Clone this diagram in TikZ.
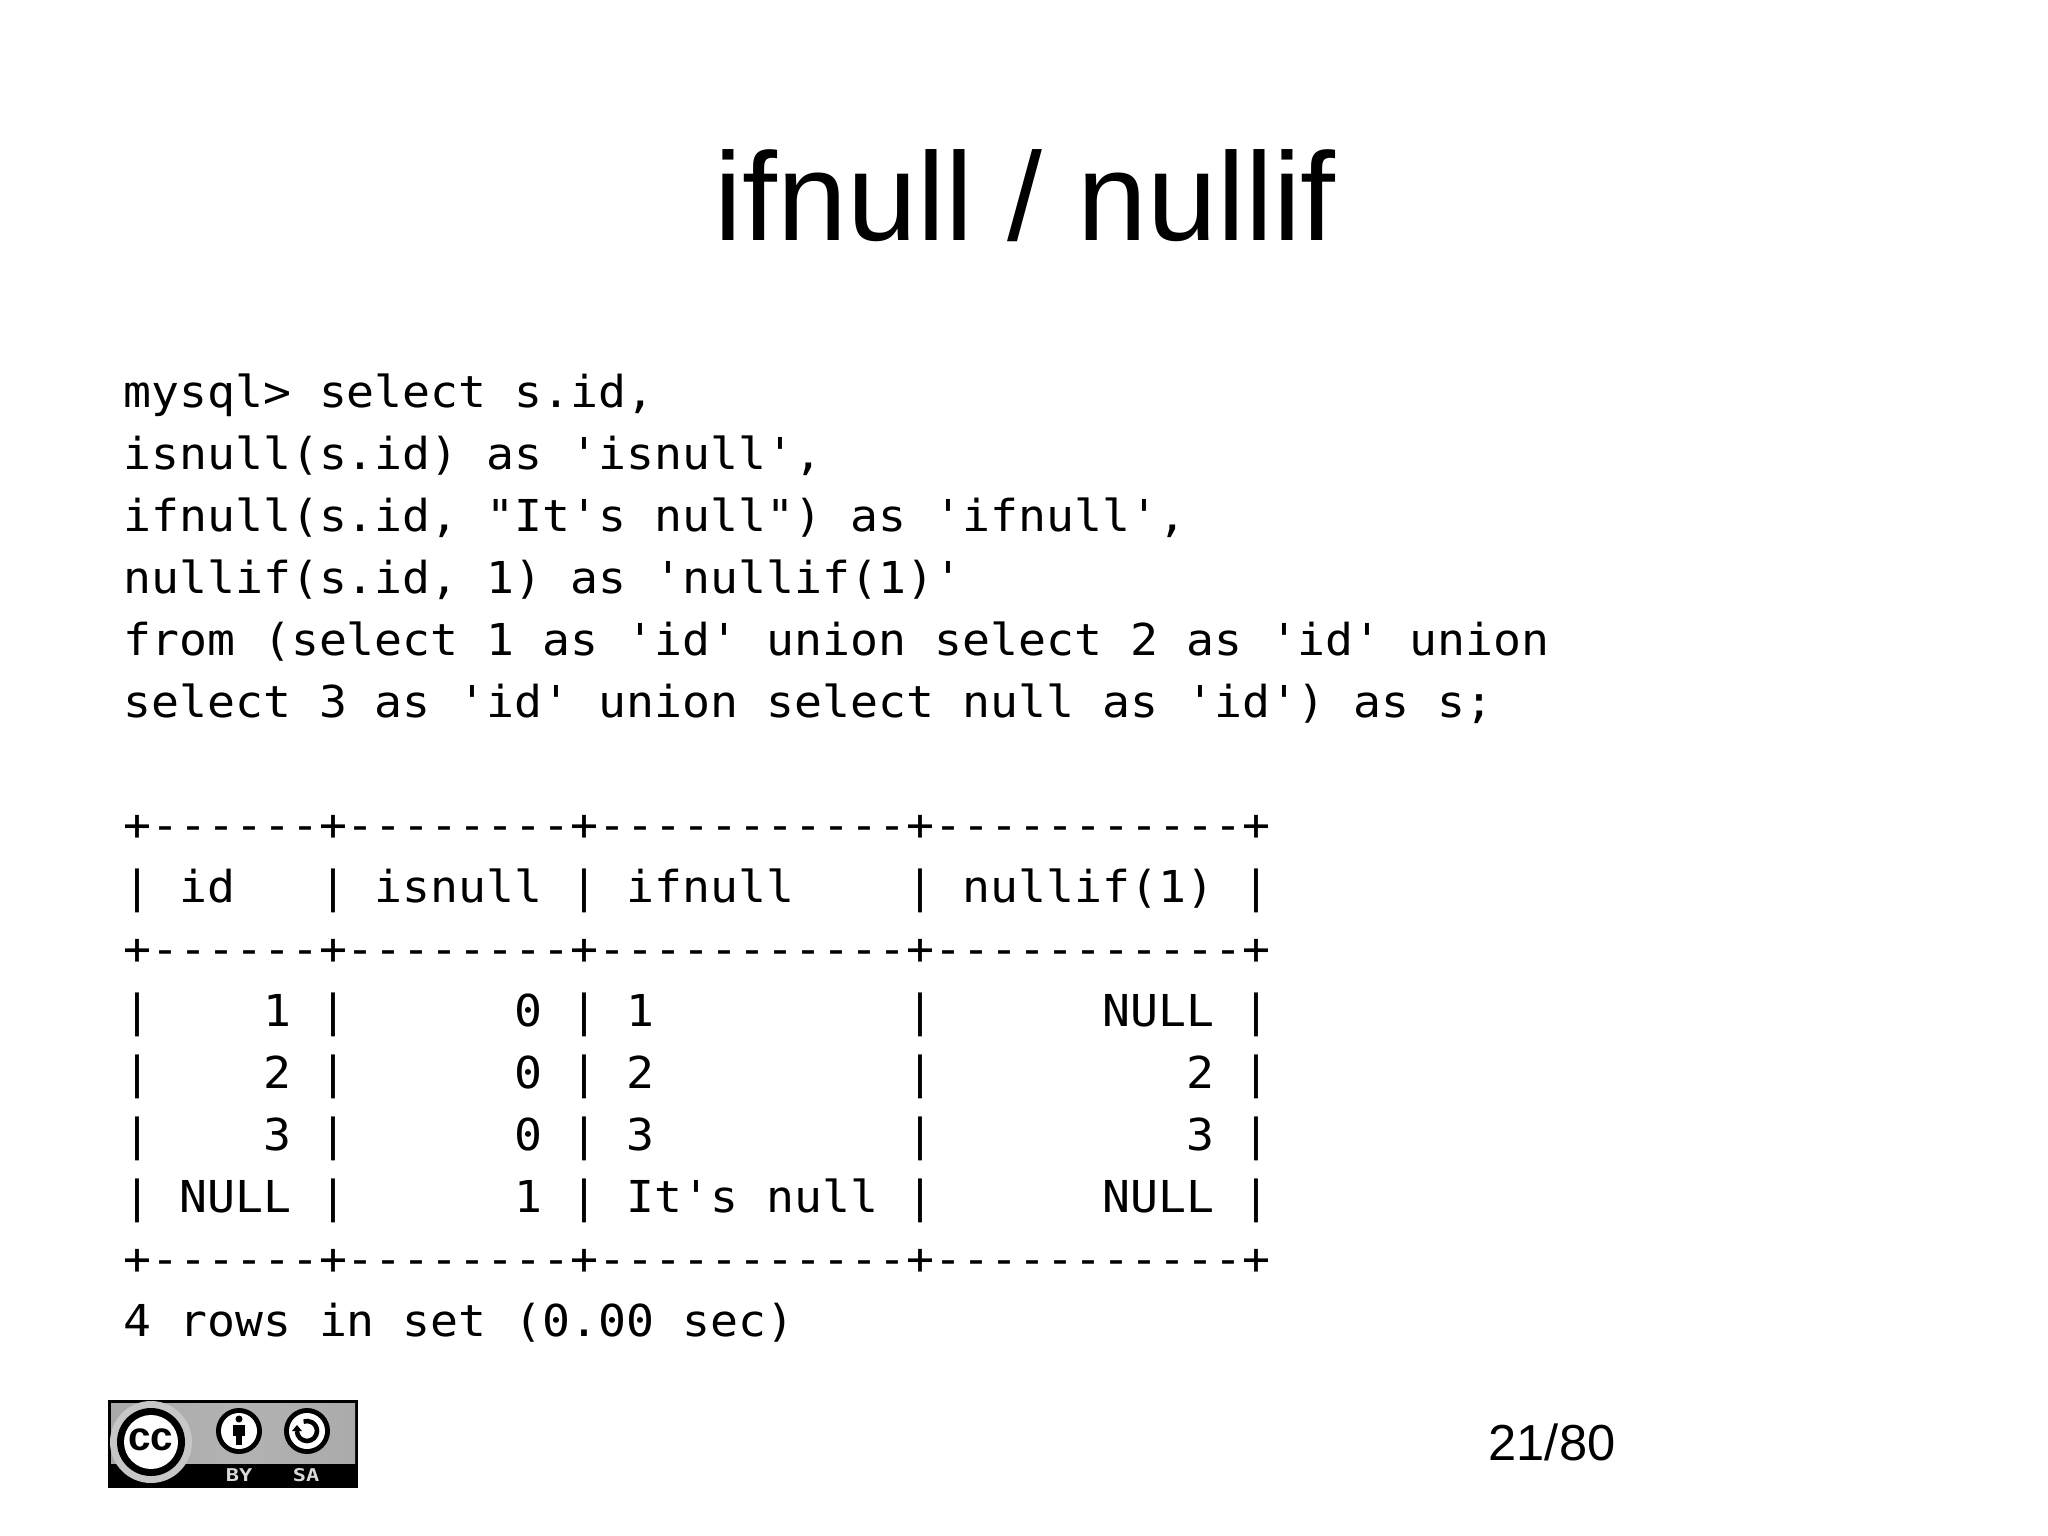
\documentclass[tikz,border=0pt]{standalone}
\usepackage{fontspec}
\setmainfont{Liberation Sans}
\newfontfamily\codefont[FakeStretch=1.057]{DejaVu Sans Mono}
\newfontfamily\badgefont{DejaVu Sans Mono}
\usetikzlibrary{math}

\tikzset{
  codeline/.style={anchor=base west,inner sep=0pt,font=\codefont\fontsize{12.5}{14}\selectfont},
  badgetext/.style={anchor=base,inner sep=0pt,text=white!85!black,xscale=1.25,font=\badgefont\bfseries\fontsize{5}{6}\selectfont}
}

\begin{document}
\begin{tikzpicture}[x=0.01cm,y=-0.01cm]
      \tikzmath{
        \xCode = 122.5;
        \yCode = 407.5;
        \dy = 61.9;
      }

      \useasboundingbox (0,0) rectangle (2048,1536);

      \node[anchor=base,inner sep=0pt,font=\fontsize{35.7}{40}\selectfont] (title) at (1025.5,240) {ifnull / nullif};

      % query
      \node[codeline] (q0) at (\xCode,\yCode+0*\dy) {mysql> select s.id,};
      \node[codeline] (q1) at (\xCode,\yCode+1*\dy) {isnull(s.id) as 'isnull',};
      \node[codeline] (q2) at (\xCode,\yCode+2*\dy) {ifnull(s.id, "It's null") as 'ifnull',};
      \node[codeline] (q3) at (\xCode,\yCode+3*\dy) {nullif(s.id, 1) as 'nullif(1)'};
      \node[codeline] (q4) at (\xCode,\yCode+4*\dy) {from (select 1 as 'id' union select 2 as 'id' union};
      \node[codeline] (q5) at (\xCode,\yCode+5*\dy) {select 3 as 'id' union select null as 'id') as s;};

      % result table
      \node[codeline] (r0) at (\xCode,\yCode+7*\dy) {+------+--------+-----------+-----------+};
      \node[codeline] (r1) at (\xCode,\yCode+8*\dy) {|~id~~~|~isnull~|~ifnull~~~~|~nullif(1)~|};
      \node[codeline] (r2) at (\xCode,\yCode+9*\dy) {+------+--------+-----------+-----------+};
      \node[codeline] (r3) at (\xCode,\yCode+10*\dy) {|~~~~1~|~~~~~~0~|~1~~~~~~~~~|~~~~~~NULL~|};
      \node[codeline] (r4) at (\xCode,\yCode+11*\dy) {|~~~~2~|~~~~~~0~|~2~~~~~~~~~|~~~~~~~~~2~|};
      \node[codeline] (r5) at (\xCode,\yCode+12*\dy) {|~~~~3~|~~~~~~0~|~3~~~~~~~~~|~~~~~~~~~3~|};
      \node[codeline] (r6) at (\xCode,\yCode+13*\dy) {|~NULL~|~~~~~~1~|~It's null~|~~~~~~NULL~|};
      \node[codeline] (r7) at (\xCode,\yCode+14*\dy) {+------+--------+-----------+-----------+};
      \node[codeline] (r8) at (\xCode,\yCode+15*\dy) {4 rows in set (0.00 sec)};

      \node[anchor=base,inner sep=0pt,font=\fontsize{14.4}{16}\selectfont] (page) at (1552,1460) {21/80};

      % licence badge
      \fill[black] (108,1400) rectangle (358,1488);
      \fill[left color=black!34,right color=black!33,middle color=black!30] (111,1403) rectangle (355,1463);
      \fill[black!22] (151,1442) circle [radius=41];
      \fill[black] (151,1442) circle [radius=34];
      \fill[white] (151,1442) circle [radius=27];
      \node[inner sep=0pt,font=\bfseries\fontsize{11.5}{12}\selectfont] (cc) at (151,1440) {cc};

      \fill[black] (239,1431) circle [radius=23];
      \fill[white] (239,1431) circle [radius=18];
      \fill[black] (239,1419) circle [radius=3.5];
      \fill[black] (233,1425) rectangle (245,1436);
      \fill[black] (236,1436) rectangle (242,1445);

      \fill[black] (307,1431) circle [radius=23];
      \fill[white] (307,1431) circle [radius=18];
      \draw[black,line width=1.3pt] (297,1431) arc [start angle=180,end angle=-110,radius=10];
      \fill[black] (292,1431) -- (302,1431) -- (297,1425) -- cycle;

      \node[badgetext] (by) at (239,1481) {BY};
      \node[badgetext] (sa) at (306,1481) {SA};
\end{tikzpicture}
\end{document}
